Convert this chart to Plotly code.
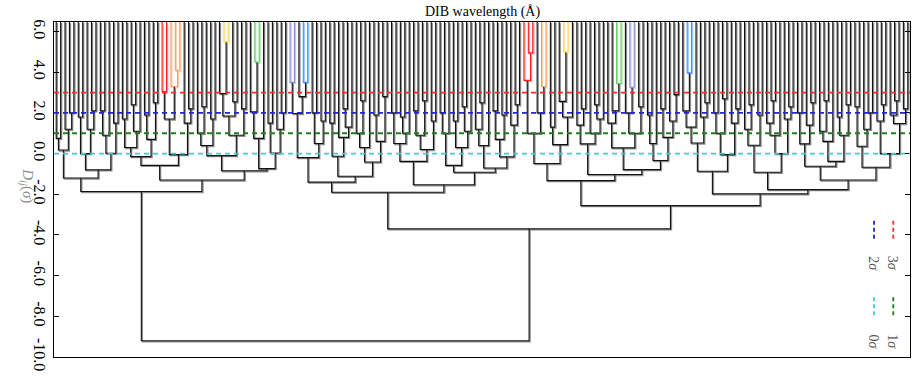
import plotly.graph_objects as go

# ---------------- data ----------------
n_leaves = 194
# D_ij(sigma) value of the link joining leaf i and leaf i+1 (leaf order left->right)
merge_heights = [
    0.75, 0.18, 1.2, 2.0, -1.2, 1.8, 0.0, 1.2, 2.1, -0.8,          # 0-9
    2.1, 0.9, 0.02, 1.5, -1.86, 1.7, 0.3, 2.4, 1.1, -0.15,          # 10-19
    1.9, 0.7, 2.5, -0.58, 3.05, 1.7, 3.3, 4.1, -0.05, 1.5,          # 20-29
    2.2, -1.3, 1.0, 2.3, 0.4, 1.7, -0.1, 2.95, 5.5, 1.85,           # 30-39
    2.55, 0.9, 2.2, -0.84, 2.05, 4.5, 0.75, -0.74, 1.5, 0.03,       # 40-49
    1.2, 2.0, -9.2, 3.5, 1.97, 2.8, 3.5, -0.2, 2.0, 0.5,            # 50-59
    1.6, -1.4, 1.5, -0.13, 0.8, 2.2, 1.3, -1.11, 1.0, 2.6,          # 60-69
    0.3, -0.41, 1.9, 0.6, 2.8, -1.9, 2.0, 0.5, 1.8, 1.0,            # 70-79
    -0.38, 2.1, 0.9, 2.6, 0.2, 1.6, -1.53, 2.0, 1.0, -0.58,         # 80-89
    1.6, 0.3, 2.3, 1.1, -0.92, 1.2, 2.5, 0.4, -0.71, 2.1,           # 90-99
    0.7, 1.9, -0.16, 1.4, 2.4, -3.7, 3.6, 4.95, 1.0, 2.0,           # 100-109
    3.3, -0.49, 1.3, 0.44, 2.57, 5.0, 1.8, -1.33, 1.4, 2.2,         # 110-119
    0.48, 1.0, 2.4, 1.7, -1.03, 1.5, 2.1, 3.45, 0.28, 2.0,          # 120-129
    3.26, 1.0, 2.3, -0.79, 1.9, 0.5, -0.34, 2.2, 0.8, 1.6,          # 130-139
    2.9, -2.56, 2.1, 3.97, 1.3, 0.52, 1.8, 2.5, -0.87, 2.0,         # 140-149
    1.0, 2.7, -0.05, 1.5, 2.2, -1.98, 1.2, 2.4, 0.41, 1.9,          # 150-159
    -0.92, 1.5, 2.6, 0.9, 0.0, 1.7, 2.3, -1.77, 2.0, 0.48,          # 160-169
    1.4, 2.5, -0.62, 1.1, 2.6, 0.6, -0.38, 1.8, 0.9, 2.4,           # 170-179
    -1.3, 2.3, 0.36, 1.2, 2.0, -0.67, 1.6, 2.4, 0.0, 1.9,           # 180-189
    2.6, 1.48, 2.2,                                                 # 190-192
]
color_threshold = 3.0
sigma_levels = [3.0, 2.0, 1.0, 0.0]
sigma_names = ["3σ", "2σ", "1σ", "0σ"]
tick_values = [6, 4, 2, 0, -2, -4, -6, -8, -10]
tick_labels = ["6.0", "4.0", "2.0", "0.0", "-2.0", "-4.0", "-6.0", "-8.0", "-10.0"]

# ---------------- styling ----------------
cluster_palette = ["#ff1f1f", "#ff9a5c", "#ffd54a", "#62cf62", "#8a8ad8", "#3f8fff"]
sigma_colors = ["#ff2a2a", "#2424d8", "#1f7f1f", "#3fcfcf"]
LINK = "#111111"
Y_TOP = 6.47
Y_BOTTOM = -10.0
X_MAX = 10 * n_leaves
PLOT_W, PLOT_H = 856, 335
SERIF = "Liberation Serif, DejaVu Serif, serif"


def build(lo, hi):
    if lo == hi:
        return {"x": 5 + 10 * lo, "y": Y_TOP, "leaf": True}
    k = min(range(lo, hi), key=lambda j: merge_heights[j])
    left = build(lo, k)
    right = build(k + 1, hi)
    return {"x": (left["x"] + right["x"]) / 2, "y": merge_heights[k],
            "leaf": False, "l": left, "r": right}


root = build(0, n_leaves - 1)

segments = {}   # color -> (xs, ys)
counter = [0]


def add_u(node, color):
    xs, ys = segments.setdefault(color, ([], []))
    l, r = node["l"], node["r"]
    xs += [l["x"], l["x"], r["x"], r["x"], None]
    ys += [l["y"], node["y"], node["y"], r["y"], None]


def walk(node, cluster_color):
    if node["leaf"]:
        return
    if node["y"] > color_threshold:
        if cluster_color is None:
            cluster_color = cluster_palette[counter[0] % len(cluster_palette)]
            counter[0] += 1
        color = cluster_color
        child_color = cluster_color
    else:
        color = LINK
        child_color = None
    walk(node["l"], child_color)
    add_u(node, color)
    walk(node["r"], child_color)


walk(root, None)

fig = go.Figure()
dx = X_MAX / PLOT_W            # one pixel in x data units
dy = (Y_TOP - Y_BOTTOM) / PLOT_H
order = [LINK] + [c for c in segments if c != LINK]
# soft grey "shadow" one pixel to the right / below, then the crisp line
for c in order:
    xs, ys = segments[c]
    sx = [None if v is None else v + dx for v in xs]
    sy = [None if v is None else v - dy for v in ys]
    fig.add_trace(go.Scatter(x=sx, y=sy, mode="lines",
                             line=dict(color="#8c8c8c" if c == LINK else c, width=1.4),
                             opacity=1.0 if c == LINK else 0.45,
                             hoverinfo="skip", showlegend=False))
for c in order:
    xs, ys = segments[c]
    fig.add_trace(go.Scatter(x=xs, y=ys, mode="lines",
                             line=dict(color=c, width=1.1),
                             hoverinfo="skip", showlegend=False))

# sigma threshold lines
for lvl, col in zip(sigma_levels, sigma_colors):
    fig.add_shape(type="line", xref="paper", x0=0, x1=1, yref="y", y0=lvl, y1=lvl,
                  line=dict(color=col, width=1.8, dash="5px,4px"), layer="above")

# rotated legend at bottom right
legend_pos = [(0.9805, 0.407, 0.353, 0.292), (0.958, 0.407, 0.353, 0.292),
              (0.9805, 0.178, 0.122, 0.058), (0.958, 0.178, 0.122, 0.058)]
for (px, y0, y1, ty), col, name in zip(legend_pos, sigma_colors, sigma_names):
    fig.add_shape(type="line", xref="paper", yref="paper", x0=px, x1=px, y0=y0, y1=y1,
                  line=dict(color=col, width=1.8, dash="4px,3px"))
    fig.add_annotation(xref="paper", yref="paper", x=px, y=ty, text=f"{name[0]}<i>σ</i>",
                       textangle=90, showarrow=False, xshift=9, yshift=-14,
                       font=dict(family=SERIF, size=14, color="#555555"))

fig.add_annotation(xref="paper", yref="paper", x=0.5, y=1, yanchor="bottom", yshift=0,
                   text="DIB wavelength (Å)", showarrow=False,
                   font=dict(family=SERIF, size=14, color="black"))
fig.add_annotation(xref="paper", yref="paper", x=-0.0445, y=0.51,
                   text="<i>D</i><sub><i>ij</i></sub>(<i>σ</i>)", textangle=90,
                   showarrow=False, font=dict(family=SERIF, size=15, color="#8a8a8a"))

fig.update_xaxes(range=[0, X_MAX], showticklabels=False, ticks="",
                 showgrid=False, zeroline=False, showline=True, linecolor="black",
                 linewidth=1, mirror=True, automargin=False)
fig.update_yaxes(range=[Y_BOTTOM, Y_TOP], tickvals=tick_values, ticktext=tick_labels,
                 tickangle=90, ticks="inside", ticklen=5, tickcolor="black",
                 tickfont=dict(family=SERIF, size=16, color="black"),
                 showgrid=False, zeroline=False, showline=True, linecolor="black",
                 linewidth=1, mirror="ticks", automargin=False)
fig.update_layout(width=920, height=377, margin=dict(l=54, r=10, t=22, b=20),
                  plot_bgcolor="white", paper_bgcolor="white", showlegend=False)

# drop the default page margin so the figure sits at the window's corner
fig.write_html("out.html", config={"displayModeBar": False},
               post_script="document.body.style.margin='0px';")
